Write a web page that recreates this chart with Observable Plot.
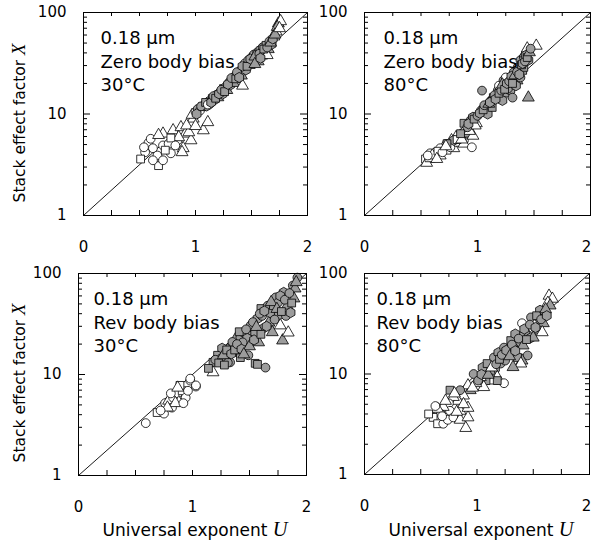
<!DOCTYPE html>
<html><head><meta charset="utf-8">
<script src="https://cdn.jsdelivr.net/npm/d3@7"></script>
<script src="https://cdn.jsdelivr.net/npm/@observablehq/plot@0.6"></script>
<style>
body{margin:0;background:#fff;}
#root{position:relative;width:593px;height:542px;overflow:hidden;font-family:"DejaVu Sans",sans-serif;color:#000;background:#fff;}
#root svg{position:absolute;}
.ytitle{position:absolute;font-size:15.5px;white-space:nowrap;transform:translate(-50%,-50%) rotate(-90deg);}
.xtitle{position:absolute;font-size:17px;white-space:nowrap;transform:translate(-50%,-50%);}
.it{font-family:"Liberation Serif",serif;font-style:italic;font-size:1.2em;}
</style></head><body><div id="root"></div>
<script>
// Series: A open circle, B open square, C open triangle, D gray circle, E gray square, F gray triangle, G gray hexagon
const seriesKeys = ["A","B","C","D","E","F","G"];
const xTickLabels = [0, 1, 2];
const yTickLabels = [1, 10, 100];
const xMinorTicks = [0.25, 0.5, 0.75, 1, 1.25, 1.5, 1.75];
const yMinorTicks = [2,3,4,5,6,7,8,9,20,30,40,50,60,70,80,90];
const yMajorTicks = [10];
const diagonal = [{U:0, X:1}, {U:2, X:100}];

const zero30 = [
 [0.58,5.2,"A"],[0.62,4.6,"A"],[0.55,4.2,"A"],[0.71,4.9,"A"],[0.76,5.1,"A"],[0.84,5.5,"A"],[0.66,3.9,"A"],[0.78,4.1,"A"],
 [0.89,4.6,"C"],[0.71,6.4,"C"],[0.80,6.9,"C"],[0.87,7.4,"C"],[0.91,6.4,"C"],[0.96,5.5,"C"],[0.88,4.2,"C"],[0.94,6.6,"C"],
 [0.98,9.0,"C"],[0.85,5.9,"C"],[0.51,3.6,"B"],[0.67,3.1,"B"],[0.71,3.5,"A"],[1.07,6.9,"C"],[1.11,8.3,"C"],[0.60,5.7,"A"],
 [0.67,6.2,"C"],[0.78,5.8,"B"],[0.73,4.4,"B"],[0.82,4.9,"A"],[0.62,3.5,"A"],[0.54,4.7,"A"],[0.92,7.7,"C"],[1.00,7.6,"C"],
 [0.97,9.8,"C"],[1.00,10.5,"A"],[1.02,11.2,"D"],[1.04,10.8,"A"],[1.06,11.8,"E"],[1.08,12.3,"D"],[1.10,12.0,"G"],[1.12,13.4,"D"],
 [1.13,12.6,"A"],[1.15,14.2,"E"],[1.17,13.8,"G"],[1.19,15.5,"D"],[1.20,14.6,"F"],[1.22,16.4,"D"],[1.24,15.7,"G"],[1.25,17.8,"E"],
 [1.27,18.6,"D"],[1.28,17.2,"F"],[1.30,20.5,"D"],[1.31,19.3,"G"],[1.33,21.8,"E"],[1.34,20.2,"F"],[1.35,23.5,"D"],[1.38,24.6,"G"],
 [1.40,26.8,"D"],[1.41,23.9,"F"],[1.43,28.5,"E"],[1.44,31.5,"A"],[1.45,27.2,"G"],[1.47,33.8,"D"],[1.48,30.4,"F"],[1.50,36.2,"A"],
 [1.51,32.6,"G"],[1.52,38.5,"D"],[1.54,35.1,"E"],[1.55,40.3,"D"],[1.56,33.0,"F"],[1.58,42.8,"G"],[1.59,37.6,"F"],[1.60,45.5,"D"],
 [1.62,40.2,"G"],[1.63,47.5,"E"],[1.65,43.5,"F"],[1.66,52.0,"D"],[1.68,48.6,"G"],[1.70,58.0,"C"],[1.72,65.0,"C"],[1.74,78.0,"F"],
 [1.76,82.0,"C"],[1.73,72.0,"F"],[1.42,19.0,"C"],[1.64,38.0,"C"],
 [1.01,10.0,"G"],[1.05,11.9,"D"],[1.09,13.0,"E"],[1.11,12.4,"A"],[1.14,13.0,"G"],[1.16,15.0,"D"],[1.18,14.3,"E"],[1.21,15.8,"G"],
 [1.23,17.3,"D"],[1.26,16.6,"E"],[1.29,19.6,"G"],[1.32,22.6,"D"],[1.36,22.2,"E"],[1.37,25.8,"D"],[1.39,22.9,"G"],[1.42,29.6,"G"],
 [1.46,29.5,"E"],[1.49,34.8,"G"],[1.53,36.8,"F"],[1.57,39.2,"D"],[1.61,43.6,"E"],[1.64,45.2,"D"],[1.67,50.5,"F"],[1.69,55.0,"G"],
 [1.71,60.5,"F"],[1.75,70.0,"C"],[1.53,31.0,"F"],[1.58,35.5,"G"]
];

const zero80 = [
 [0.54,3.6,"B"],[0.55,3.3,"C"],[0.58,4.1,"A"],[0.63,4.2,"A"],[0.67,3.9,"C"],[0.70,4.7,"C"],[0.74,5.1,"B"],[0.79,4.6,"C"],
 [0.77,5.5,"C"],[0.83,5.2,"C"],[0.88,5.5,"A"],[0.85,6.1,"C"],[0.89,6.4,"F"],[0.88,5.1,"C"],[0.95,4.7,"A"],[0.96,6.1,"C"],
 [0.99,8.1,"C"],[0.61,3.7,"A"],[0.73,4.4,"B"],[0.81,5.9,"C"],[0.67,4.6,"A"],[0.57,3.7,"B"],[0.76,4.7,"A"],[0.79,5.5,"G"],
 [0.73,5.1,"E"],[0.60,3.9,"C"],[0.65,4.3,"B"],[0.69,4.2,"A"],[0.72,4.8,"C"],[0.82,5.6,"B"],[0.86,5.6,"C"],[0.93,6.8,"C"],
 [0.56,3.9,"A"],[0.64,3.6,"C"],
 [0.88,8.1,"E"],[0.94,8.7,"D"],[0.98,7.7,"C"],[1.03,10.8,"D"],[1.07,11.6,"G"],[1.12,13.6,"D"],[1.14,14.5,"E"],[1.18,17.1,"D"],
 [1.20,18.3,"G"],[1.23,21.4,"D"],[1.25,15.9,"F"],[1.27,22.9,"E"],[1.29,17.1,"G"],[1.31,14.5,"D"],[1.32,25.7,"D"],[1.35,21.4,"F"],
 [1.36,28.8,"G"],[1.38,33.9,"D"],[1.40,26.9,"E"],[1.41,36.3,"D"],[1.42,39.5,"F"],[1.44,44.2,"C"],[1.52,47.0,"C"],[1.45,33.9,"G"],
 [1.19,19.0,"A"],[1.25,22.9,"A"],[1.04,17.0,"D"],[1.45,14.5,"F"],[1.09,10.0,"G"],[1.13,11.6,"E"],[1.22,13.6,"G"],[1.27,17.8,"D"],
 [1.34,19.0,"G"],[1.38,22.9,"D"],[1.41,28.8,"E"],[0.96,9.3,"G"],[0.91,7.4,"D"],[0.85,6.4,"E"],
 [0.92,8.0,"G"],[0.97,8.9,"E"],[1.00,9.6,"D"],[1.02,10.2,"G"],[1.05,11.0,"E"],[1.06,12.2,"D"],[1.10,12.6,"F"],[1.11,13.0,"G"],
 [1.15,15.3,"D"],[1.16,14.0,"G"],[1.19,16.0,"E"],[1.21,17.0,"D"],[1.22,19.5,"F"],[1.24,17.5,"E"],[1.26,20.0,"G"],[1.28,21.0,"D"],
 [1.30,23.5,"G"],[1.31,20.0,"E"],[1.33,24.0,"F"],[1.35,26.0,"D"],[1.37,24.5,"G"],[1.39,30.5,"E"],[1.40,31.5,"G"],[1.42,33.0,"D"],
 [1.43,38.0,"G"],[1.44,36.0,"E"],[1.46,40.5,"F"],[1.47,44.0,"D"]
];

const rev30 = [
 [0.59,3.3,"A"],[0.69,4.2,"B"],[0.75,4.1,"A"],[0.76,5.2,"A"],[0.79,5.5,"C"],[0.82,4.7,"A"],[0.83,5.9,"A"],[0.87,6.5,"A"],
 [0.88,5.3,"C"],[0.91,6.9,"B"],[0.94,5.9,"A"],[0.96,6.9,"A"],[0.98,8.7,"A"],[1.03,7.6,"A"],[0.89,7.8,"B"],[0.85,5.2,"C"],
 [0.81,6.5,"A"],[0.78,4.7,"C"],[0.72,4.4,"A"],[0.92,5.2,"A"],[0.87,7.4,"C"],[1.03,7.8,"A"],[0.98,9.1,"A"],
 [1.18,10.5,"C"],[1.18,13.2,"E"],[1.22,15.5,"E"],[1.25,14.4,"D"],[1.29,16.6,"G"],[1.32,18.2,"D"],[1.33,13.2,"D"],[1.36,19.5,"G"],
 [1.38,22.7,"F"],[1.40,16.6,"E"],[1.42,23.3,"D"],[1.45,26.0,"G"],[1.46,19.5,"F"],[1.49,15.5,"D"],[1.51,30.6,"D"],[1.52,24.4,"E"],
 [1.55,12.9,"E"],[1.57,35.8,"G"],[1.58,20.8,"F"],[1.60,45.0,"E"],[1.62,28.6,"D"],[1.64,11.7,"D"],[1.66,48.0,"D"],[1.67,32.6,"F"],
 [1.70,26.2,"F"],[1.73,58.0,"D"],[1.75,38.2,"G"],[1.77,30.6,"C"],[1.79,21.7,"F"],[1.80,65.0,"G"],[1.83,48.0,"F"],[1.84,26.0,"C"],
 [1.88,76.0,"D"],[1.89,56.6,"F"],[1.92,91.0,"D"],[1.90,71.0,"F"],[1.61,38.0,"D"],[1.48,22.8,"G"],[1.44,20.8,"D"],[1.26,18.2,"G"],
 [1.68,41.0,"G"],[1.71,48.0,"E"],[1.75,51.5,"D"],[1.82,38.0,"D"],[1.86,41.0,"G"],[1.55,26.0,"G"],[1.57,12.6,"E"],[1.31,13.1,"D"],
 [1.14,11.5,"E"],[1.42,14.7,"E"],
 [1.20,14.0,"D"],[1.23,13.0,"E"],[1.27,15.5,"F"],[1.30,17.5,"E"],[1.34,16.0,"G"],[1.35,21.0,"D"],[1.37,17.5,"E"],[1.39,20.0,"D"],
 [1.41,26.5,"E"],[1.43,17.8,"G"],[1.47,28.0,"D"],[1.50,19.0,"F"],[1.53,33.0,"D"],[1.54,22.0,"G"],[1.56,29.5,"F"],[1.59,40.0,"D"],
 [1.60,25.0,"E"],[1.63,42.5,"G"],[1.65,30.0,"G"],[1.69,52.0,"F"],[1.72,35.0,"D"],[1.74,44.5,"F"],[1.77,60.0,"G"],[1.78,42.0,"E"],
 [1.81,55.0,"D"],[1.85,64.0,"D"],[1.87,51.0,"E"],[1.91,82.0,"F"],[1.45,15.8,"F"],[1.28,12.4,"E"]
];

const rev80 = [
 [1.64,60.0,"C"],[1.67,56.0,"C"],[1.63,51.0,"C"],[1.65,48.0,"F"],[1.58,40.0,"D"],[1.55,34.0,"G"],[1.50,32.0,"C"],[1.54,27.0,"F"],
 [1.46,29.0,"A"],[1.43,26.0,"D"],[1.48,23.0,"G"],[1.39,24.0,"E"],[1.36,20.6,"D"],[1.41,19.2,"F"],[1.32,18.3,"G"],[1.28,16.3,"D"],
 [1.45,15.3,"D"],[1.40,13.6,"F"],[1.36,14.6,"E"],[1.24,14.6,"G"],[1.21,12.7,"D"],[1.16,11.3,"G"],[1.12,10.1,"D"],[1.18,9.3,"C"],
 [1.24,8.1,"A"],[1.14,8.6,"C"],[1.08,8.6,"E"],[1.06,7.4,"C"],[1.03,9.3,"C"],[0.99,8.1,"C"],[0.94,6.9,"F"],[0.92,7.7,"C"],
 [0.88,6.1,"C"],[0.85,6.9,"D"],[0.83,5.4,"C"],[0.79,5.9,"C"],[0.75,5.1,"A"],[0.76,4.3,"A"],[0.70,4.7,"C"],[0.68,4.0,"A"],
 [0.65,4.5,"C"],[0.61,3.7,"B"],[0.57,4.0,"B"],[0.65,3.2,"B"],[0.70,3.2,"A"],[0.74,3.5,"A"],[0.79,3.7,"A"],[0.85,3.5,"C"],
 [0.92,3.7,"C"],[0.90,2.9,"C"],[0.85,4.3,"C"],[0.92,4.6,"C"],[0.76,6.9,"E"],[0.97,10.0,"D"],[1.05,11.6,"G"],[1.09,12.7,"E"],
 [1.15,14.6,"D"],[1.19,16.3,"G"],[1.24,18.3,"D"],[1.30,21.5,"E"],[1.34,25.0,"G"],[1.40,32.0,"A"],[1.48,36.6,"D"],[1.56,43.0,"G"],
 [1.59,32.0,"F"],[1.58,26.0,"C"],[1.50,23.0,"F"],[1.39,12.7,"C"],[1.32,11.7,"F"],[1.18,8.6,"E"],[1.25,13.6,"D"],
 [0.96,7.3,"C"],[1.01,8.6,"D"],[1.04,9.9,"G"],[1.10,9.8,"F"],[1.13,11.6,"C"],[1.17,12.5,"D"],[1.20,14.0,"E"],[1.22,15.5,"D"],
 [1.26,17.2,"G"],[1.29,15.0,"F"],[1.31,19.6,"D"],[1.34,17.0,"G"],[1.37,22.5,"D"],[1.42,28.0,"G"],[1.44,22.0,"E"],[1.47,31.0,"D"],
 [1.52,29.0,"G"],[1.53,38.0,"E"],[1.57,35.0,"D"],[1.61,44.0,"F"],[1.62,38.0,"G"],[0.72,5.4,"C"],[0.80,6.4,"C"],[0.63,4.8,"A"],
 [0.69,3.8,"A"],[0.82,4.2,"C"],[0.88,5.0,"C"]
];

const panels = [
 {data: zero30, lines: ["0.18 µm","Zero body bias","30°C"], fl:83, fr:307, ft:12, fb:215, dx:17, lastDx:0},
 {data: zero80, lines: ["0.18 µm","Zero body bias","80°C"], fl:364, fr:590, ft:12, fb:215, dx:19, lastDx:-4},
 {data: rev30, lines: ["0.18 µm","Rev body bias","30°C"], fl:78, fr:306, ft:273, fb:475, dx:15, lastDx:0},
 {data: rev80, lines: ["0.18 µm","Rev body bias","80°C"], fl:364, fr:589, ft:273, fb:474, dx:12, lastDx:-3}
];

const root = document.getElementById("root");
const mL = 60, mR = 12, mT = 10, mB = 45;
for (const p of panels) {
  const fw = p.fr - p.fl, fh = p.fb - p.ft;
  const W = fw + mL + mR, H = fh + mT + mB;
  const svg = Plot.plot({
    width: W, height: H,
    marginLeft: mL, marginRight: mR, marginTop: mT, marginBottom: mB,
    style: {background: "transparent", overflow: "visible", fontFamily: "DejaVu Sans", fontSize: "15px", color: "black"},
    x: {domain: [0, 2], axis: null},
    y: {type: "log", domain: [1, 100], ticks: yTickLabels, tickSize: 0, tickPadding: 17, label: null, tickFormat: d => String(d)},
    symbol: {domain: seriesKeys, range: ["circle","square","triangle","circle","square","triangle","hexagon"]},
    color: {domain: seriesKeys, range: ["white","white","white","#9c9c9c","#9c9c9c","#9c9c9c","#9c9c9c"]},
    marks: [
      Plot.tickX(xMinorTicks, {x: d => d, insetTop: fh - 5, stroke: "black", strokeWidth: 1}),
      Plot.tickX(xMinorTicks, {x: d => d, insetBottom: fh - 4, stroke: "black", strokeWidth: 1}),
      Plot.tickY(yMinorTicks, {y: d => d, insetRight: fw - 4, stroke: "black", strokeWidth: 1}),
      Plot.tickY(yMajorTicks, {y: d => d, insetRight: fw - 7, stroke: "black", strokeWidth: 1}),
      Plot.tickY(yMinorTicks, {y: d => d, insetLeft: fw - 4, stroke: "black", strokeWidth: 1}),
      Plot.tickY(yMajorTicks, {y: d => d, insetLeft: fw - 7, stroke: "black", strokeWidth: 1}),
      Plot.text(xTickLabels, {filter: d => d < 2, x: d => d, text: d => String(d), frameAnchor: "bottom", dy: 32, lineAnchor: "middle", fontSize: 15, fill: "black"}),
      Plot.text(xTickLabels, {filter: d => d === 2, x: d => d, text: d => String(d), frameAnchor: "bottom", dy: 32, dx: p.lastDx, lineAnchor: "middle", fontSize: 15, fill: "black"}),
      Plot.line(diagonal, {x: "U", y: "X", stroke: "black", strokeWidth: 0.9}),
      Plot.dot(p.data, {x: d => d[0], y: d => d[1], symbol: d => d[2], fill: d => d[2], stroke: "black", strokeWidth: 0.8, r: 4.4}),
      Plot.text([p.lines.join("\n")], {frameAnchor: "top-left", dx: p.dx, dy: 15, lineAnchor: "top", textAnchor: "start", fontSize: 18, lineHeight: 1.3, fill: "black"}),
      Plot.frame({stroke: "black", strokeWidth: 1})
    ]
  });
  svg.style.left = (p.fl - mL) + "px";
  svg.style.top = (p.ft - mT) + "px";
  root.appendChild(svg);
}

function addTitle(cls, html, x, y) {
  const d = document.createElement("div");
  d.className = cls; d.innerHTML = html;
  d.style.left = x + "px"; d.style.top = y + "px";
  root.appendChild(d);
}
const yTitle = 'Stack effect factor <span class="it">X</span>';
const xTitle = 'Universal exponent <span class="it">U</span>';
addTitle("ytitle", yTitle, 19, 123);
addTitle("ytitle", yTitle, 19, 383);
addTitle("xtitle", xTitle, 195, 529);
addTitle("xtitle", xTitle, 481, 529);
</script></body></html>
